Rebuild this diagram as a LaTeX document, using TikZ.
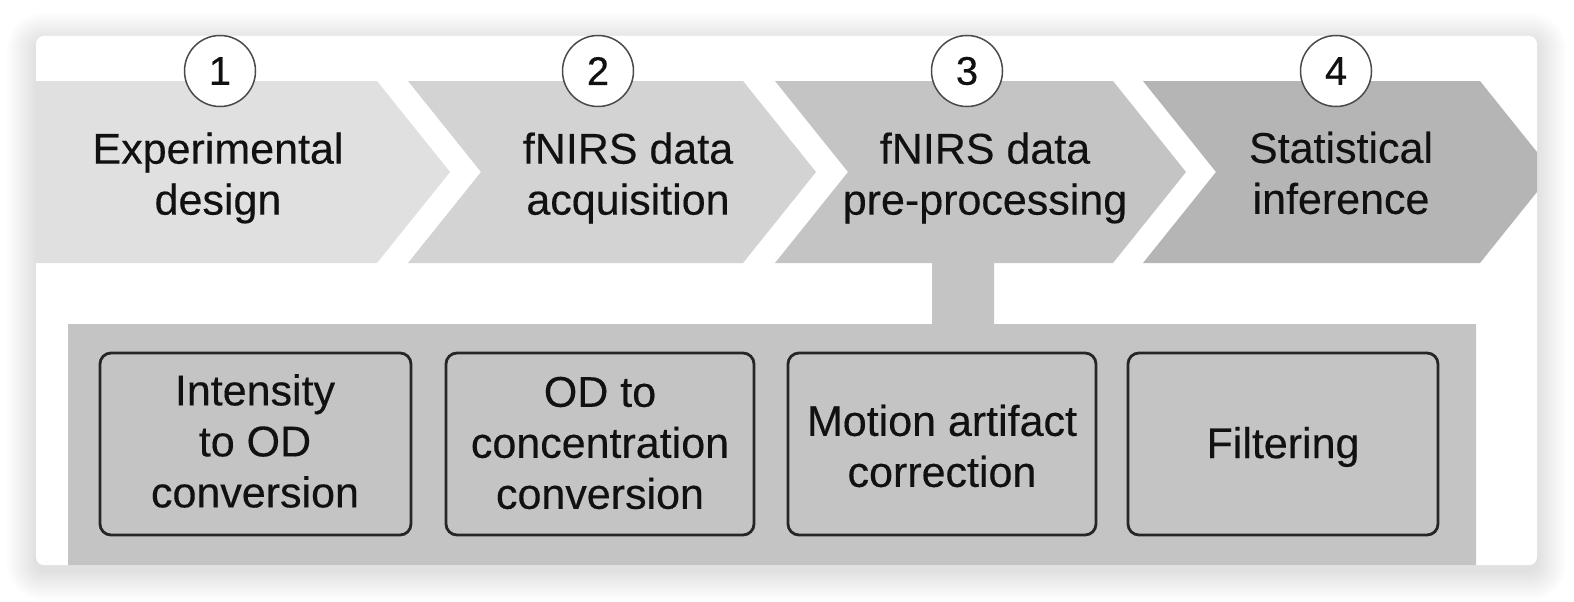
\documentclass[tikz,border=0pt]{standalone}
\usepackage{fontspec}
\setmainfont{Liberation Sans}[FakeBold=0.3]
\definecolor{chevA}{HTML}{E0E0E0}
\definecolor{chevB}{HTML}{D3D3D3}
\definecolor{chevC}{HTML}{C4C4C4}
\definecolor{chevD}{HTML}{B5B5B5}
\definecolor{panelgray}{HTML}{C4C4C4}
\definecolor{boxline}{HTML}{262626}
\definecolor{txt}{HTML}{111111}
\definecolor{ringline}{HTML}{4A4A4A}
\begin{document}
\begin{tikzpicture}[x=1pt,y=-1pt,
  bigtext/.style={font=\fontsize{43}{51}\selectfont, text=txt, align=center, inner sep=0pt},
  numring/.style={circle, draw=ringline, line width=1.5pt, fill=white, minimum size=71pt, inner sep=0pt, font=\fontsize{40}{40}\selectfont, text=txt},
  stepbox/.style={draw=boxline, line width=2.8pt, rounded corners=11pt},
]
\useasboundingbox (0,0) rectangle (1574,602);
\fill[white] (0,0) rectangle (1574,602);
% card shadow
\foreach \i in {1,...,30}{
  \fill[black, opacity=0.005, rounded corners=8pt+\i pt]
    (36-\i,36+6-\i) rectangle (1537+\i,565+6+\i);
}
% card
\fill[white, rounded corners=8pt] (36,36) rectangle (1537,565);
\begin{scope}
\clip[rounded corners=8pt] (36,36) rectangle (1537,565);
% chevrons
\fill[chevA] (36,81) -- (377,81) -- (450,172) -- (377,263) -- (36,263) -- cycle;
\fill[chevB] (408,81) -- (743,81) -- (816,172) -- (743,263) -- (408,263) -- (481,172) -- cycle;
\fill[chevC] (775,81) -- (1113,81) -- (1186,172) -- (1113,263) -- (775,263) -- (848,172) -- cycle;
\fill[chevD] (1143,81) -- (1480,81) -- (1553,172) -- (1480,263) -- (1143,263) -- (1216,172) -- cycle;
% panel with stem
\fill[panelgray] (932,262) -- (994,262) -- (994,324) -- (1476,324) -- (1476,566) -- (68,566) -- (68,324) -- (932,324) -- cycle;
\end{scope}
% numbered rings
\node[numring] (n1) at (220,71) {1};
\node[numring] (n2) at (598,71) {2};
\node[numring] (n3) at (967,71) {3};
\node[numring] (n4) at (1336,71) {4};
% chevron texts
\node[bigtext] (t1) at (218,178) {Experimental\\design};
\node[bigtext] (t2) at (628,178) {fNIRS data\\acquisition};
\node[bigtext] (t3) at (985,178) {fNIRS data\\pre-processing};
\node[bigtext] (t4) at (1341,173) {Statistical\\inference};
% sub-step boxes
\draw[stepbox] (100,353) rectangle (411,535);
\draw[stepbox] (446,353) rectangle (754,535);
\draw[stepbox] (788,353) rectangle (1096,535);
\draw[stepbox] (1128,353) rectangle (1438,535);
\node[bigtext] (b1) at (255,441) {Intensity\\to OD\\conversion};
\node[bigtext] (b2) at (600,443) {OD to\\concentration\\conversion};
\node[bigtext] (b3) at (942,446) {Motion artifact\\correction};
\node[bigtext] (b4) at (1283,447) {Filtering};
\end{tikzpicture}
\end{document}
